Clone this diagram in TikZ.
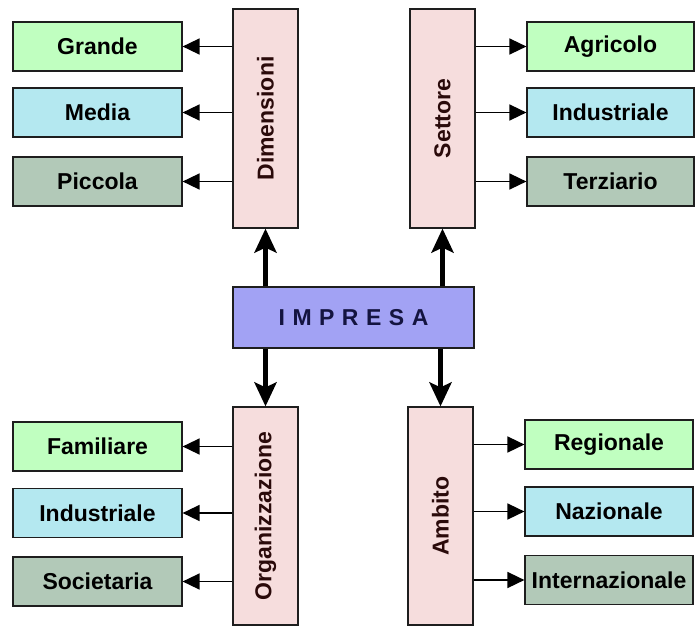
\documentclass[tikz,border=0pt]{standalone}
\usepackage{fontspec}
\setmainfont{Liberation Sans}
\usetikzlibrary{arrows.meta}
\definecolor{cGreen}{HTML}{C0FFC0}
\definecolor{cCyan}{HTML}{B4E8F0}
\definecolor{cSage}{HTML}{B2C9B8}
\definecolor{cPink}{HTML}{F6DDDD}
\definecolor{cBlue}{HTML}{A2A2F4}
\definecolor{cNavy}{HTML}{141440}
\definecolor{cEdge}{HTML}{1E1E1E}
\definecolor{cMaroon}{HTML}{2A0A0A}
\tikzset{
  leaf/.style={draw=cEdge, line width=1.2pt, inner sep=0pt,
    minimum width=169pt, minimum height=49pt,
    font=\fontsize{23}{26}\selectfont\bfseries, text=black},
  gleaf/.style={leaf, fill=cGreen},
  cleaf/.style={leaf, fill=cCyan},
  sleaf/.style={leaf, fill=cSage},
  branch/.style={draw=cEdge, line width=1.2pt, fill=cPink, inner sep=0pt,
    minimum width=65pt, minimum height=219pt},
  vlabel/.style={rotate=90, font=\fontsize{23}{26}\selectfont\bfseries, text=cMaroon},
  hub/.style={draw=cEdge, line width=1.2pt, fill=cBlue, inner sep=0pt,
    minimum width=241pt, minimum height=61pt,
    font=\fontsize{23}{26}\selectfont\bfseries, text=cNavy},
  sarrow/.style={draw=black, line width=1.6pt,
    -{Triangle[length=17pt,width=16pt]}},
  barrow/.style={draw=black, line width=5pt,
    -{Stealth[length=24pt,width=22pt,inset=5pt]}}
}
\newcommand{\lsp}{\hspace{7.5pt}}
\begin{document}
\begin{tikzpicture}[x=1pt,y=-1pt]
\useasboundingbox (0,0) rectangle (695,626);
\fill[white] (0,0) rectangle (695,626);

% central node
\node[hub] (impresa) at (353.5,317.5) {I\lsp M\lsp P\lsp R\lsp E\lsp S\lsp A};

% four branches
\node[branch] (dim) at (265.5,118.5) {};
\node[vlabel] at (dim.center) {Dimensioni};
\node[branch] (set) at (442.5,118.5) {};
\node[vlabel] at (set.center) {Settore};
\node[branch, minimum height=218pt] (org) at (265.5,516) {};
\node[vlabel] at (org.center) {Organizzazione};
\node[branch, minimum height=218pt] (amb) at (440.5,516) {};
\node[vlabel] at (amb.center) {Ambito};

% Dimensioni
\node[gleaf] (grande) at (97.5,46.5) {Grande};
\node[cleaf] (media) at (97.5,112.5) {Media};
\node[sleaf] (piccola) at (97.5,181.5) {Piccola};

% Settore
\node[gleaf, minimum width=167pt] (agricolo) at (610.5,46.5) {Agricolo};
\node[cleaf, minimum width=167pt] (indS) at (610.5,112.5) {Industriale};
\node[sleaf, minimum width=167pt] (terziario) at (610.5,181.5) {Terziario};

% Organizzazione
\node[gleaf] (familiare) at (97.5,446.5) {Familiare};
\node[cleaf] (indO) at (97.5,513) {Industriale};
\node[sleaf] (societaria) at (97.5,581.5) {Societaria};

% Ambito
\node[gleaf, minimum width=168pt] (regionale) at (609,444.5) {Regionale};
\node[cleaf, minimum width=168pt] (nazionale) at (609,511.5) {Nazionale};
\node[sleaf, minimum width=168pt] (internazionale) at (609,580) {Internazionale};

% leaf connectors
\draw[sarrow] (dim.west |- grande.east) -- (grande.east);
\draw[sarrow] (dim.west |- media.east) -- (media.east);
\draw[sarrow] (dim.west |- piccola.east) -- (piccola.east);
\draw[sarrow] (org.west |- familiare.east) -- (familiare.east);
\draw[sarrow] (org.west |- indO.east) -- (indO.east);
\draw[sarrow] (org.west |- societaria.east) -- (societaria.east);
\draw[sarrow] (set.east |- agricolo.west) -- (agricolo.west);
\draw[sarrow] (set.east |- indS.west) -- (indS.west);
\draw[sarrow] (set.east |- terziario.west) -- (terziario.west);
\draw[sarrow] (amb.east |- regionale.west) -- (regionale.west);
\draw[sarrow] (amb.east |- nazionale.west) -- (nazionale.west);
\draw[sarrow] (amb.east |- internazionale.west) -- (internazionale.west);

% hub connectors
\draw[barrow] (impresa.north -| dim.south) -- (dim.south);
\draw[barrow] (impresa.north -| set.south) -- (set.south);
\draw[barrow] (impresa.south -| org.north) -- (org.north);
\draw[barrow] (impresa.south -| amb.north) -- (amb.north);
\end{tikzpicture}
\end{document}
